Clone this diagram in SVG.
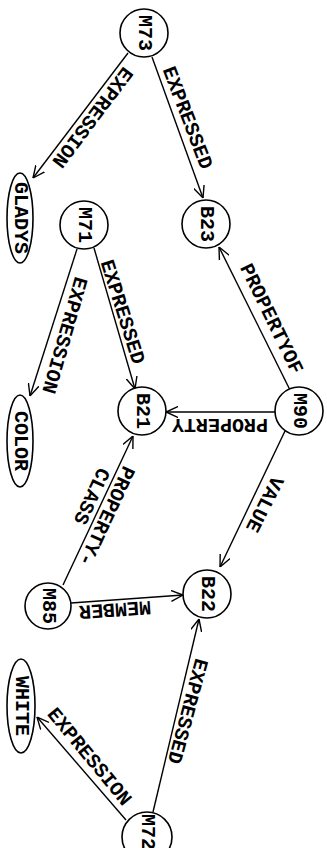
<svg xmlns="http://www.w3.org/2000/svg" width="327" height="848" viewBox="0 0 327 848">
<style>
.n{fill:#fff;stroke:#000;stroke-width:1.6}
.e{stroke:#000;stroke-width:1.4;fill:none;marker-end:url(#ah)}
text{font-family:"Liberation Mono","Courier New",monospace;font-size:20px;font-weight:bold;fill:#000;text-anchor:middle;dominant-baseline:central}
</style>
<defs>
<marker id="ah" viewBox="0 0 12 12" refX="12" refY="6" markerWidth="12" markerHeight="12" markerUnits="userSpaceOnUse" orient="auto">
<path d="M0,0.5 L12,6 L0,11.5" fill="none" stroke="#000" stroke-width="1.4"/>
</marker>
</defs>
<rect width="327" height="848" fill="#fff"/>
<g id="connectors">
<line class="e" x1="128" y1="53" x2="33" y2="178"/>
<text transform="translate(92,117) rotate(127)">EXPRESSION</text>
<line class="e" x1="152" y1="57" x2="203" y2="198"/>
<text transform="translate(187,118) rotate(69)">EXPRESSED</text>
<line class="e" x1="77" y1="249" x2="30" y2="396"/>
<text transform="translate(64,335) rotate(106)">EXPRESSION</text>
<line class="e" x1="94" y1="248" x2="135" y2="389"/>
<text transform="translate(122,312) rotate(72.5)">EXPRESSED</text>
<line class="e" x1="290" y1="390" x2="219" y2="247"/>
<text transform="translate(271,319) rotate(64)">PROPERTYOF</text>
<line class="e" x1="275" y1="412" x2="166" y2="412"/>
<text transform="translate(220,424) rotate(180)">PROPERTY</text>
<line class="e" x1="285" y1="431" x2="220" y2="567"/>
<text transform="translate(264,504) rotate(117)">VALUE</text>
<line class="e" x1="63" y1="585" x2="133" y2="436"/>
<text transform="translate(106,516) rotate(115)">PROPERTY-</text>
<text transform="translate(91,496) rotate(115)">CLASS</text>
<line class="e" x1="71" y1="603" x2="183" y2="595"/>
<text transform="translate(115,609) rotate(176)">MEMBER</text>
<line class="e" x1="153" y1="812" x2="199" y2="619"/>
<text transform="translate(187,711) rotate(105)">EXPRESSED</text>
<line class="e" x1="126" y1="820" x2="37" y2="717"/>
<text transform="translate(89,757) rotate(50.5)">EXPRESSION</text>
</g>
<g id="M73"><circle class="n" cx="144" cy="33" r="24"/><text transform="translate(144,33) rotate(90)">M73</text></g>
<g id="GLADYS"><ellipse class="n" cx="20" cy="218" rx="13" ry="45"/><text transform="translate(20,218) rotate(90)">GLADYS</text></g>
<g id="B23"><circle class="n" cx="206" cy="224" r="24"/><text transform="translate(206,224) rotate(90)">B23</text></g>
<g id="M71"><circle class="n" cx="84" cy="225" r="24"/><text transform="translate(84,225) rotate(90)">M71</text></g>
<g id="COLOR"><ellipse class="n" cx="20" cy="441" rx="13" ry="46"/><text transform="translate(20,441) rotate(90)">COLOR</text></g>
<g id="B21"><circle class="n" cx="142" cy="411" r="24"/><text transform="translate(142,411) rotate(90)">B21</text></g>
<g id="M90"><circle class="n" cx="299" cy="411" r="24"/><text transform="translate(299,411) rotate(90)">M90</text></g>
<g id="B22"><circle class="n" cx="207" cy="594" r="24"/><text transform="translate(207,594) rotate(90)">B22</text></g>
<g id="M85"><circle class="n" cx="48" cy="606" r="23"/><text transform="translate(48,606) rotate(90)">M85</text></g>
<g id="WHITE"><ellipse class="n" cx="21" cy="706" rx="14" ry="47"/><text transform="translate(21,706) rotate(90)">WHITE</text></g>
<g id="M72"><circle class="n" cx="147" cy="837" r="25"/><text transform="translate(147,832) rotate(90)">M72</text></g>
</svg>
